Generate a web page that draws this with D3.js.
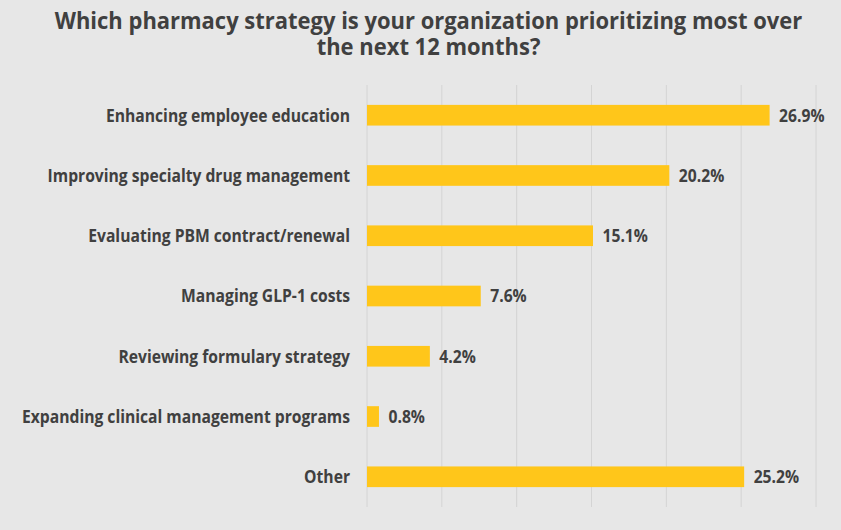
<!DOCTYPE html>
<html>
<head>
<meta charset="utf-8">
<script src="https://cdn.jsdelivr.net/npm/d3@7"></script>
<style>
  html, body { margin: 0; padding: 0; background: #e7e7e7; }
  svg { display: block; font-family: "Open Sans", sans-serif; }
</style>
</head>
<body>
<svg id="chart" width="841" height="530"></svg>
<script>
// survey answers, top to bottom
var categories = [
  "Enhancing employee education",
  "Improving specialty drug management",
  "Evaluating PBM contract/renewal",
  "Managing GLP-1 costs",
  "Reviewing formulary strategy",
  "Expanding clinical management programs",
  "Other"
];
var values = [26.9, 20.2, 15.1, 7.6, 4.2, 0.8, 25.2];
var gridTicks = [0, 5, 10, 15, 20, 25, 30];
var titleLines = [
  "Which pharmacy strategy is your organization prioritizing most over",
  "the next 12 months?"
];

var W = 841, H = 530;
var margin = {top: 85, right: 25, bottom: 23, left: 367};
var textColor = "#404040";
// the source font is a bit narrower than Open Sans, squeeze it horizontally
var labelSqueeze = 0.87, titleSqueeze = 0.915;

var svg = d3.select("#chart");
svg.append("rect").attr("width", W).attr("height", H).attr("fill", "#e7e7e7");

var x = d3.scaleLinear().domain([0, 30]).range([margin.left, W - margin.right]);
var y = d3.scaleBand().domain(categories).range([margin.top, H - margin.bottom]).paddingInner(0.657).paddingOuter(0.33);

// title, one text block with a line per tspan
svg.append("text")
	.attr("transform", "translate(428.5,29) scale(" + titleSqueeze + ",1)")
	.attr("text-anchor", "middle")
	.attr("font-size", 24)
	.attr("font-weight", "bold")
	.attr("fill", textColor)
	.selectAll("tspan")
	.data(titleLines)
	.enter().append("tspan")
	.attr("x", 0)
	.attr("y", function(d, i){ return i * 26; })
	.text(function(d){ return d; });

// vertical gridlines
svg.append("g").selectAll("line")
	.data(gridTicks)
	.enter().append("line")
	.attr("x1", function(d){ return x(d); })
	.attr("x2", function(d){ return x(d); })
	.attr("y1", margin.top)
	.attr("y2", H - margin.bottom)
	.attr("stroke", "#d4d4d4")
	.attr("stroke-width", 1);

// bars
svg.append("g").selectAll("rect")
	.data(values)
	.enter().append("rect")
	.attr("x", x(0))
	.attr("y", function(d, i){ return y(categories[i]); })
	.attr("width", function(d){ return x(d) - x(0); })
	.attr("height", y.bandwidth())
	.attr("fill", "#ffc61a");

// value labels
svg.append("g").selectAll("text")
	.data(values)
	.enter().append("text")
	.attr("transform", function(d, i){
		return "translate(" + (x(d) + 9.5) + "," + (y(categories[i]) + y.bandwidth() / 2) + ") scale(" + labelSqueeze + ",1)";
	})
	.attr("dy", "0.35em")
	.attr("font-size", 18)
	.attr("font-weight", "bold")
	.attr("fill", textColor)
	.text(function(d){ return d.toFixed(1) + "%"; });

// category labels
svg.append("g").selectAll("text")
	.data(categories)
	.enter().append("text")
	.attr("transform", function(d){
		return "translate(350," + (y(d) + y.bandwidth() / 2) + ") scale(" + labelSqueeze + ",1)";
	})
	.attr("dy", "0.35em")
	.attr("text-anchor", "end")
	.attr("font-size", 18)
	.attr("font-weight", "bold")
	.attr("fill", textColor)
	.text(function(d){ return d; });
</script>
</body>
</html>
